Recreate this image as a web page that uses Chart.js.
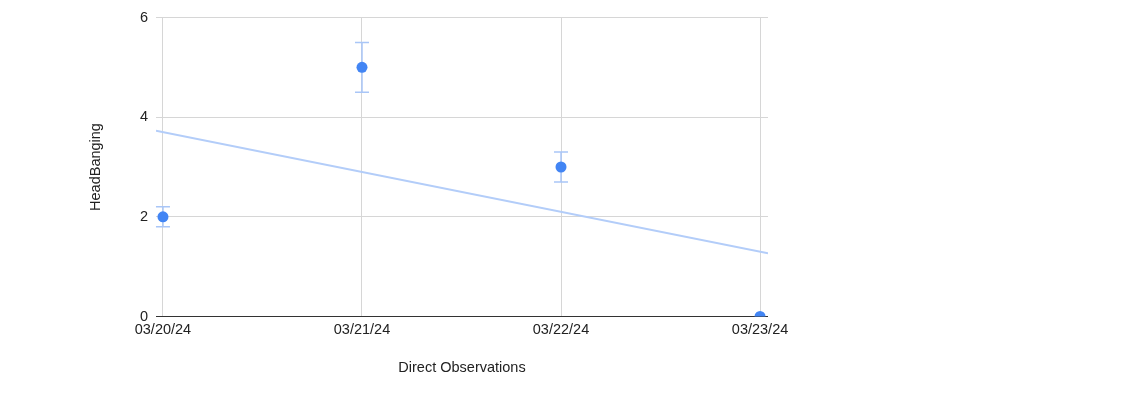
<!DOCTYPE html>
<html>
<head>
<meta charset="utf-8">
<script src="https://cdn.jsdelivr.net/npm/chart.js@4"></script>
<style>
  html, body { margin: 0; padding: 0; background: #fff; }
  #wrap { width: 1141px; height: 393px; position: relative; }
</style>
</head>
<body>
<div id="wrap"><canvas id="c" width="1141" height="393"></canvas></div>
<script>
// ---- data ----
const categories = ['03/20/24', '03/21/24', '03/22/24', '03/23/24'];
const headBanging = [2, 5, 3, 0];
const errorAmounts = [0.2, 0.5, 0.3, 0];
const yTicks = [0, 2, 4, 6];

// linear trendline (least squares) of the series
const n = headBanging.length;
const mx = (n - 1) / 2;
const my = headBanging.reduce((a, b) => a + b, 0) / n;
let sxy = 0, sxx = 0;
headBanging.forEach((v, i) => { sxy += (i - mx) * (v - my); sxx += (i - mx) * (i - mx); });
const slope = sxy / sxx;
const intercept = my - slope * mx;

const X_MIN = -0.035, X_MAX = 3.04;

const errorBarPlugin = {
  id: 'errorBars',
  beforeDatasetsDraw(chart) {
    const ctx = chart.ctx;
    const xs = chart.scales.x, ys = chart.scales.y;
    ctx.save();
    ctx.strokeStyle = '#a9c6f7';
    ctx.lineWidth = 1.5;
    headBanging.forEach((v, i) => {
      const e = errorAmounts[i];
      if (!e) return;
      const px = xs.getPixelForValue(i);
      const top = ys.getPixelForValue(v + e);
      const bot = ys.getPixelForValue(v - e);
      ctx.beginPath();
      ctx.moveTo(px, top); ctx.lineTo(px, bot);
      ctx.moveTo(px - 7, top); ctx.lineTo(px + 7, top);
      ctx.moveTo(px - 7, bot); ctx.lineTo(px + 7, bot);
      ctx.stroke();
    });
    ctx.restore();
  }
};

const font = { family: '"Liberation Sans", Arial, sans-serif', size: 14.5 };

new Chart(document.getElementById('c'), {
  type: 'scatter',
  data: {
    datasets: [
      {
        label: 'HeadBanging',
        data: headBanging.map((v, i) => ({ x: i, y: v })),
        backgroundColor: '#4285f4',
        borderColor: '#4285f4',
        pointRadius: 5.5,
        pointHoverRadius: 5.5,
        borderWidth: 0,
        clip: 0
      },
      {
        type: 'line',
        label: 'Trend',
        data: [X_MIN, X_MAX].map(x => ({ x, y: intercept + slope * x })),
        borderColor: '#b3cdf9',
        borderWidth: 2,
        pointRadius: 0,
        fill: false,
        clip: 0
      }
    ]
  },
  options: {
    responsive: false,
    animation: false,
    events: [],
    layout: { padding: { left: 80, top: 17.5, right: 373, bottom: 0 } },
    plugins: { legend: { display: false }, tooltip: { enabled: false } },
    scales: {
      x: {
        type: 'linear',
        min: X_MIN,
        max: X_MAX,
        afterBuildTicks: (axis) => { axis.ticks = categories.map((c, i) => ({ value: i })); },
        afterFit: (scale) => { scale.height = 76.5; },
        ticks: {
          callback: (v) => categories[v],
          color: '#222',
          font,
          padding: 5,
          maxRotation: 0,
          autoSkip: false
        },
        grid: { color: '#d6d6d6', lineWidth: 1, drawTicks: false },
        border: { display: false },
        title: {
          display: true,
          text: 'Direct Observations',
          color: '#222',
          font,
          padding: { top: 0, bottom: 16 }
        }
      },
      y: {
        min: 0,
        max: 6,
        afterBuildTicks: (axis) => { axis.ticks = yTicks.map(v => ({ value: v })); },
        afterFit: (scale) => { scale.width = 76; },
        ticks: { color: '#222', font, padding: 8 },
        grid: {
          color: (c) => (c.tick && c.tick.value === 0 ? '#333333' : '#d6d6d6'),
          lineWidth: 1,
          drawTicks: false
        },
        border: { display: false },
        title: {
          display: true,
          text: 'HeadBanging',
          color: '#222',
          font,
          padding: { top: 7, bottom: 0 }
        }
      }
    }
  },
  plugins: [errorBarPlugin]
});
</script>
</body>
</html>
